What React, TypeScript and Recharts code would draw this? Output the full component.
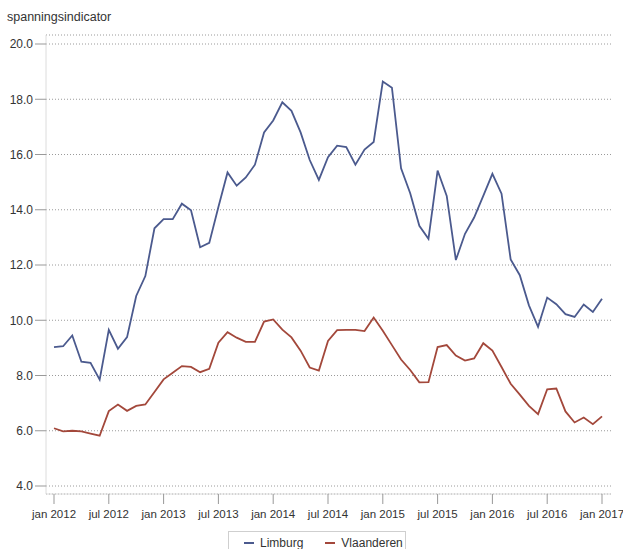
import React from 'react';
import { LineChart, Line, XAxis, YAxis, CartesianGrid, Legend } from 'recharts';

const tickLabels = ['jan 2012', 'jul 2012', 'jan 2013', 'jul 2013', 'jan 2014', 'jul 2014', 'jan 2015', 'jul 2015', 'jan 2016', 'jul 2016', 'jan 2017'];
const tickMonths = [0, 6, 12, 18, 24, 30, 36, 42, 48, 54, 60];
const yTicks = [4, 6, 8, 10, 12, 14, 16, 18, 20];

const limburg = [9.03, 9.06, 9.45, 8.5, 8.46, 7.85, 9.65, 8.97, 9.39, 10.88, 11.6, 13.33,
  13.66, 13.66, 14.22, 13.98, 12.64, 12.8, 14.1, 15.35, 14.87, 15.17, 15.63, 16.8,
  17.23, 17.89, 17.58, 16.8, 15.8, 15.08, 15.9, 16.32, 16.27, 15.63, 16.18, 16.45,
  18.64, 18.42, 15.5, 14.6, 13.42, 12.95, 15.42, 14.5, 12.18, 13.13, 13.72, 14.5,
  15.3, 14.58, 12.2, 11.63, 10.54, 9.76, 10.82, 10.58, 10.22, 10.12, 10.57, 10.3, 10.78];

const vlaanderen = [6.09, 5.98, 6.0, 5.98, 5.9, 5.82, 6.71, 6.95, 6.72, 6.9, 6.95, 7.4,
  7.86, 8.1, 8.34, 8.31, 8.12, 8.24, 9.19, 9.57, 9.37, 9.22, 9.22, 9.95,
  10.03, 9.66, 9.38, 8.9, 8.29, 8.18, 9.25, 9.64, 9.65, 9.65, 9.61, 10.1,
  9.62, 9.1, 8.58, 8.2, 7.75, 7.76, 9.03, 9.1, 8.72, 8.54, 8.62, 9.17,
  8.9, 8.31, 7.7, 7.31, 6.9, 6.6, 7.5, 7.53, 6.7, 6.3, 6.48, 6.24, 6.52];

const data = limburg.map((v, i) => ({ t: i, Limburg: v, Vlaanderen: vlaanderen[i] }));

const FONT = '"Liberation Sans", Arial, sans-serif';
const BLUE = '#4B5A8E';
const RED = '#A3483B';

const LegendBox = (props: any) => {
  const items = props.payload || [];
  return (
    <div style={{
      boxSizing: 'border-box', width: 178, height: 24, border: '1px solid #cfcfcf',
      display: 'flex', alignItems: 'center', paddingLeft: 15, fontFamily: FONT, fontSize: 12, color: '#333',
    }}>
      {items.map((it: any, idx: number) => (
        <span key={idx} style={{ display: 'flex', alignItems: 'center', marginRight: 22 }}>
          <span style={{ display: 'inline-block', width: 10, height: 1.5, background: it.color, marginRight: 6 }} />
          {it.value}
        </span>
      ))}
    </div>
  );
};

export default function App() {
  return (
    <div style={{ position: 'absolute', left: 0, top: 0, width: 623, height: 549, background: '#fff', overflow: 'hidden' }}>
      <div style={{ position: 'absolute', left: 7, top: 10, fontFamily: FONT, fontSize: 12.5, color: '#333' }}>
        spanningsindicator
      </div>
      <LineChart width={623} height={549} data={data} margin={{ top: 35, right: 12, bottom: 25, left: 0 }} style={{ overflow: 'visible' }}>
        <CartesianGrid vertical={false} stroke="#9a9a9a" strokeDasharray="1 2" yAxisId="y" xAxisId="x" />
        <XAxis
          xAxisId="x"
          dataKey="t"
          type="number"
          domain={[0, 60]}
          ticks={tickMonths}
          tickFormatter={(v: number) => tickLabels[tickMonths.indexOf(v)]}
          padding={{ left: 8, right: 9 }}
          height={30}
          tickSize={10}
          tickMargin={6}
          axisLine={{ stroke: '#dcdcdc' }}
          tickLine={{ stroke: '#999' }}
          tick={{ fill: '#333', fontSize: 11.5, fontFamily: FONT }}
          interval={0}
        />
        <XAxis xAxisId="top" orientation="top" dataKey="t" type="number" domain={[0, 60]} height={0} tick={false} tickLine={false} axisLine={{ stroke: '#dcdcdc' }} />
        <YAxis
          yAxisId="y"
          domain={[4, 20]}
          ticks={yTicks}
          tickFormatter={(v: number) => v.toFixed(1)}
          padding={{ top: 9, bottom: 8 }}
          width={46}
          tickSize={11}
          tickMargin={2}
          axisLine={{ stroke: '#dcdcdc' }}
          tickLine={{ stroke: '#999' }}
          tick={{ fill: '#333', fontSize: 12, fontFamily: FONT }}
          interval={0}
        />
        <YAxis yAxisId="right" orientation="right" domain={[4, 20]} width={0} tick={false} tickLine={false} axisLine={{ stroke: '#dcdcdc' }} />
        <Legend
          layout="horizontal"
          verticalAlign="middle"
          align="center"
          content={<LegendBox />}
          wrapperStyle={{ position: 'absolute', left: 228, top: 531, width: 178, height: 24 }}
        />
        <Line xAxisId="x" yAxisId="y" type="linear" dataKey="Limburg" stroke={BLUE} strokeWidth={1.8} dot={false} isAnimationActive={false} />
        <Line xAxisId="x" yAxisId="y" type="linear" dataKey="Vlaanderen" stroke={RED} strokeWidth={1.8} dot={false} isAnimationActive={false} />
      </LineChart>
    </div>
  );
}
